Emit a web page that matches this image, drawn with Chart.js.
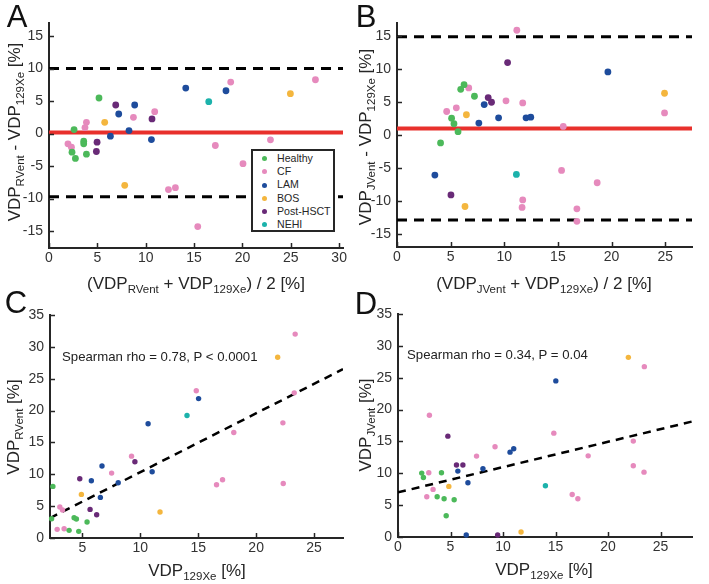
<!DOCTYPE html>
<html><head><meta charset="utf-8">
<script src="https://cdn.jsdelivr.net/npm/chart.js@4.4.1/dist/chart.umd.min.js"></script>
<style>
html,body{margin:0;padding:0;background:#fff}
body{width:709px;height:584px;position:relative;overflow:hidden;font-family:"Liberation Sans",Arial,Helvetica,sans-serif;color:#262626}
canvas{position:absolute}
.t{position:absolute;white-space:nowrap;font-size:17px;line-height:1;z-index:3}
.t sub{font-size:11.5px;vertical-align:-4px;line-height:0}
.rot{transform:translate(-50%,-50%) rotate(-90deg)}
.hz{transform:translate(-50%,-50%)}
.lt{position:absolute;font-size:31px;line-height:1;z-index:3;transform:translate(-50%,-50%);color:#111}
.ann{position:absolute;font-size:13.2px;line-height:1;z-index:3;transform:translateY(-50%);white-space:nowrap;color:#222}
#legend{position:absolute;left:251px;top:149px;width:84px;height:83px;box-sizing:border-box;border:2px solid #262626;background:#fff;z-index:4;padding-top:1px}
#legend .row{position:relative;height:13.2px;line-height:13.2px;font-size:10.6px;white-space:nowrap}
#legend .dot{position:absolute;left:9px;top:4.3px;width:5px;height:5px;border-radius:50%}
#legend .lab{position:absolute;left:24px;top:0}
</style>
</head><body>
<canvas id="cA" width="354" height="290" style="left:0;top:0"></canvas>
<canvas id="cB" width="355" height="290" style="left:354px;top:0"></canvas>
<canvas id="cC" width="354" height="294" style="left:0;top:290px"></canvas>
<canvas id="cD" width="355" height="294" style="left:354px;top:290px"></canvas>

<div class="lt" style="left:17px;top:16px">A</div>
<div class="lt" style="left:366px;top:16px">B</div>
<div class="lt" style="left:16px;top:302px">C</div>
<div class="lt" style="left:366px;top:303px">D</div>

<div class="t rot" style="left:14px;top:132px">VDP<sub>RVent</sub> - VDP<sub>129Xe</sub> [%]</div>
<div class="t rot" style="left:365px;top:137px">VDP<sub>JVent</sub> - VDP<sub>129Xe</sub> [%]</div>
<div class="t hz" style="left:196px;top:283px">(VDP<sub>RVent</sub> + VDP<sub>129Xe</sub>) / 2 [%]</div>
<div class="t hz" style="left:544px;top:283px">(VDP<sub>JVent</sub> + VDP<sub>129Xe</sub>) / 2 [%]</div>
<div class="t rot" style="left:13px;top:427px">VDP<sub>RVent</sub> [%]</div>
<div class="t rot" style="left:365px;top:425px">VDP<sub>JVent</sub> [%]</div>
<div class="t hz" style="left:197px;top:570px">VDP<sub>129Xe</sub> [%]</div>
<div class="t hz" style="left:544px;top:569px">VDP<sub>129Xe</sub> [%]</div>

<div class="ann" style="left:62px;top:357px">Spearman rho = 0.78, P &lt; 0.0001</div>
<div class="ann" style="left:407px;top:355px">Spearman rho = 0.34, P = 0.04</div>

<div id="legend"></div>

<script>
// ---------- categories ----------
const groups = ['Healthy', 'CF', 'LAM', 'BOS', 'Post-HSCT', 'NEHI'];

// ---------- Panel A: Bland-Altman RVent vs 129Xe (mean, difference) ----------
const A_Healthy = [[5.17,5.47],[2.59,0.61],[3.59,-1.18],[3.59,-1.58],[2.38,-2.86],[2.73,-3.83],[3.87,-3.17]];
const A_CF = [[1.96,-1.58],[2.32,-2.1],[3.87,1.73],[3.72,0.92],[8.73,2.5],[10.93,3.37],[12.35,-8.62],[13.07,-8.32],[15.38,-14.3],[17.2,-1.84],[18.79,7.92],[27.55,8.27],[22.9,-0.97],[20.06,-4.64]];
const A_LAM = [[8.27,0.46],[6.35,-0.41],[7.21,3.01],[8.86,4.39],[10.59,-0.92],[14.14,7.0],[18.3,6.58]];
const A_BOS = [[5.76,1.73],[7.83,-7.96],[24.96,6.13]];
const A_PostHSCT = [[6.9,4.39],[4.97,-1.33],[4.9,-2.76],[10.65,2.25]];
const A_NEHI = [[16.52,4.9]];
const A_bias = 0.15, A_upperLoA = 10.0, A_lowerLoA = -9.7;

// ---------- Panel B: Bland-Altman JVent vs 129Xe ----------
const B_Healthy = [[4.06,-1.21],[5.09,2.56],[5.31,1.71],[5.69,0.5],[5.94,6.93],[6.25,7.64],[7.22,5.88]];
const B_CF = [[4.63,3.57],[5.53,4.12],[6.69,7.14],[11.17,15.9],[10.16,5.18],[11.72,4.87],[11.72,-9.85],[11.66,-11.0],[15.34,-5.37],[15.5,1.3],[18.66,-7.25],[16.77,-11.2],[16.77,-13.1],[24.94,3.35]];
const B_LAM = [[3.53,-6.08],[7.63,1.81],[8.13,4.62],[9.47,2.61],[12.03,2.61],[12.47,2.71],[19.66,9.58]];
const B_BOS = [[6.47,3.07],[6.34,-10.85],[24.94,6.34]];
const B_PostHSCT = [[5.03,-9.1],[8.5,5.68],[8.81,4.97],[10.31,11.0]];
const B_NEHI = [[11.13,-5.98]];
const B_bias = 1.0, B_upperLoA = 14.9, B_lowerLoA = -12.9;

// ---------- Panel C: VDP 129Xe vs VDP RVent ----------
const C_Healthy = [[2.45,8.1],[2.34,3.03],[3.85,1.2],[4.28,3.19],[4.48,2.98],[4.68,1.04],[5.4,2.51]];
const C_CF = [[3.05,4.86],[3.28,4.39],[2.82,1.36],[3.42,1.46],[7.52,10.19],[9.24,12.85],[14.83,23.1],[23.37,32.0],[23.29,22.78],[22.31,18.07],[18.07,16.55],[16.58,8.35],[17.1,9.14],[22.34,8.56]];
const C_LAM = [[5.77,8.99],[6.69,11.29],[6.55,6.37],[8.09,8.67],[10.67,17.92],[11.02,10.4],[15.03,21.88]];
const C_BOS = [[4.91,6.84],[11.7,4.08],[21.86,28.37]];
const C_PostHSCT = [[4.77,9.3],[5.66,4.49],[6.23,3.66],[9.53,11.96]];
const C_NEHI = [[14.03,19.23]];
const C_fit = [[2.2,3.13],[27.5,26.5]];

// ---------- Panel D: VDP 129Xe vs VDP JVent ----------
const D_Healthy = [[2.26,10.03],[2.42,9.35],[4.14,10.08],[3.73,6.32],[4.39,6.01],[5.35,5.85],[4.59,3.34]];
const D_CF = [[2.99,19.12],[2.93,10.08],[3.34,7.47],[2.74,6.32],[7.48,12.7],[9.24,14.16],[14.84,16.3],[23.46,26.74],[22.41,15.05],[18.11,12.74],[22.41,11.18],[23.43,10.18],[16.59,6.68],[17.13,6.0]];
const D_LAM = [[5.7,10.34],[6.66,8.52],[8.09,10.71],[10.67,13.32],[11.02,13.85],[6.5,0.31],[15.03,24.5]];
const D_BOS = [[4.84,7.94],[11.72,0.78],[21.94,28.2]];
const D_PostHSCT = [[4.75,15.83],[5.57,11.29],[6.18,11.29],[9.49,0.31]];
const D_NEHI = [[14.04,8.04]];
const D_fit = [[0,7.0],[28,18.12]];

// ---------- tick labels ----------
const A_xTicks = [0,5,10,15,20,25,30];
const A_yTicks = [-15,-10,-5,0,5,10,15];
const B_xTicks = [0,5,10,15,20,25];
const B_yTicks = [-15,-10,-5,0,5,10,15];
const C_xTicks = [5,10,15,20,25];
const C_yTicks = [0,5,10,15,20,25,30,35];
const D_xTicks = [0,5,10,15,20,25];
const D_yTicks = [0,5,10,15,20,25,30,35];

// ---------- styles ----------
const groupColors = ['#4cb95a','#e68abd','#1e4c9c','#f4b63e','#692a77','#1cb2ab'];
const axisColor = '#262626';
Chart.defaults.font.family = '"Liberation Sans", Arial, Helvetica, sans-serif';

const inwardTicks = {
  id: 'inwardTicks',
  afterDraw(chart) {
    const ctx = chart.ctx, ca = chart.chartArea;
    const xs = chart.scales.x, ys = chart.scales.y;
    ctx.save();
    ctx.strokeStyle = axisColor; ctx.lineWidth = 1.5;
    xs.ticks.forEach(t => {
      const p = Math.round(xs.getPixelForValue(t.value)) + 0.5;
      ctx.beginPath(); ctx.moveTo(p, ca.bottom); ctx.lineTo(p, ca.bottom - 5); ctx.stroke();
    });
    ys.ticks.forEach(t => {
      const p = Math.round(ys.getPixelForValue(t.value)) + 0.5;
      ctx.beginPath(); ctx.moveTo(ca.left, p); ctx.lineTo(ca.left + 5, p); ctx.stroke();
    });
    ctx.restore();
  }
};

function toPts(arr) { return arr.map(p => ({x: p[0], y: p[1]})); }

function makePanel(id, sets, lines, xr, yr, xTicks, yTicks, geom, radius) {
  const datasets = [];
  sets.forEach((s, i) => {
    datasets.push({
      type: 'scatter', label: groups[i], data: toPts(s),
      backgroundColor: groupColors[i], borderColor: groupColors[i],
      pointRadius: radius, pointBorderWidth: 0, clip: false, order: 1
    });
  });
  lines.forEach(l => {
    datasets.push({
      type: 'line', label: '', data: toPts(l.pts), borderColor: l.color,
      borderWidth: l.width, borderDash: l.dash || [], pointRadius: 0,
      fill: false, tension: 0, order: 5
    });
  });
  return new Chart(document.getElementById(id), {
    data: { datasets },
    options: {
      responsive: false, animation: false, events: [],
      layout: { autoPadding: false, padding: geom.pad },
      plugins: { legend: { display: false }, tooltip: { enabled: false } },
      scales: {
        x: {
          type: 'linear', min: xr[0], max: xr[1],
          afterBuildTicks: s => { s.ticks = xTicks.map(v => ({value: v})); },
          afterFit: s => { s.height = geom.xh; },
          grid: { display: false, drawTicks: false },
          border: { display: true, color: axisColor, width: 2 },
          ticks: { color: '#333', font: { size: 14 }, padding: 2, maxRotation: 0 }
        },
        y: {
          type: 'linear', min: yr[0], max: yr[1],
          afterBuildTicks: s => { s.ticks = yTicks.map(v => ({value: v})); },
          afterFit: s => { s.width = geom.yw; },
          grid: { display: false, drawTicks: false },
          border: { display: true, color: axisColor, width: 2 },
          ticks: { color: '#333', font: { size: 14 }, padding: 6 }
        }
      }
    },
    plugins: [inwardTicks]
  });
}

const red = '#e8302c';
makePanel('cA', [A_Healthy, A_CF, A_LAM, A_BOS, A_PostHSCT, A_NEHI], [
  { pts: [[0, A_bias],[30.4, A_bias]], color: red, width: 4 },
  { pts: [[0, A_upperLoA],[30.4, A_upperLoA]], color: '#000', width: 3, dash: [10,7] },
  { pts: [[0, A_lowerLoA],[30.4, A_lowerLoA]], color: '#000', width: 3, dash: [10,7] }
], [0, 30.4], [-17.6, 17], A_xTicks, A_yTicks,
  { yw: 49, xh: 30, pad: { top: 23, right: 11, bottom: 12, left: 0 } }, 3.4);

makePanel('cB', [B_Healthy, B_CF, B_LAM, B_BOS, B_PostHSCT, B_NEHI], [
  { pts: [[0, B_bias],[27.5, B_bias]], color: red, width: 4 },
  { pts: [[0, B_upperLoA],[27.5, B_upperLoA]], color: '#000', width: 3, dash: [10,7] },
  { pts: [[0, B_lowerLoA],[27.5, B_lowerLoA]], color: '#000', width: 3, dash: [10,7] }
], [0, 27.5], [-17, 17], B_xTicks, B_yTicks,
  { yw: 43, xh: 30, pad: { top: 23, right: 17, bottom: 13, left: 0 } }, 3.4);

makePanel('cC', [C_Healthy, C_CF, C_LAM, C_BOS, C_PostHSCT, C_NEHI], [
  { pts: C_fit, color: '#000', width: 2.5, dash: [8,6] }
], [2.2, 27.5], [0, 35], C_xTicks, C_yTicks,
  { yw: 50, xh: 30, pad: { top: 25, right: 11, bottom: 16, left: 0 } }, 2.7);

makePanel('cD', [D_Healthy, D_CF, D_LAM, D_BOS, D_PostHSCT, D_NEHI], [
  { pts: D_fit, color: '#000', width: 2.5, dash: [8,6] }
], [0, 28], [0, 35], D_xTicks, D_yTicks,
  { yw: 44, xh: 30, pad: { top: 24, right: 17, bottom: 17, left: 0 } }, 2.7);

// legend (panel A)
const lg = document.getElementById('legend');
groups.forEach((g, i) => {
  const r = document.createElement('div'); r.className = 'row';
  r.innerHTML = '<span class="dot" style="background:' + groupColors[i] + '"></span><span class="lab">' + g + '</span>';
  lg.appendChild(r);
});
</script>
</body></html>
